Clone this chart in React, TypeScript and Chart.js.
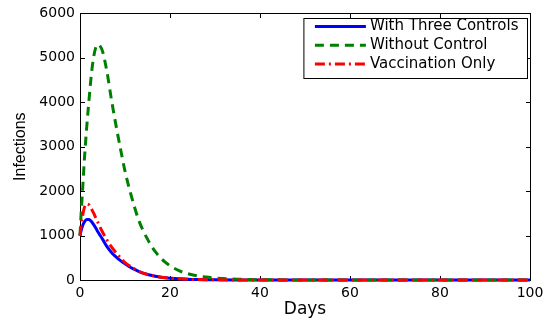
import { useEffect, useRef } from 'react';
import { Chart, registerables } from 'chart.js';

Chart.register(...registerables);

const days = [0, 0.25, 0.5, 1, 1.5, 2, 2.5, 3, 3.5, 4, 4.5, 5, 6, 7, 8, 9, 10, 11, 12, 13, 14, 15, 16, 17, 18, 19, 20, 22, 24, 26, 28, 30, 35, 40, 50, 60, 70, 80, 90, 100];

const withThreeControls = [1000, 1110, 1200, 1310, 1360, 1360, 1320, 1250, 1170, 1080, 1000, 920, 750, 620, 520, 435, 368, 300, 245, 195, 155, 125, 100, 80, 64, 51, 41, 26, 16, 10, 6, 4, 1, 0, 0, 0, 0, 0, 0, 0];
const withoutControl = [1000, 1500, 1900, 2750, 3450, 4050, 4600, 5000, 5230, 5300, 5260, 5150, 4680, 4050, 3480, 2950, 2450, 2040, 1680, 1360, 1120, 920, 745, 605, 490, 395, 320, 210, 140, 95, 65, 45, 18, 7, 1, 0, 0, 0, 0, 0];
const vaccinationOnly = [1000, 1230, 1400, 1640, 1710, 1690, 1610, 1510, 1400, 1290, 1180, 1080, 900, 745, 615, 500, 390, 320, 255, 200, 155, 125, 100, 80, 64, 51, 41, 26, 16, 10, 6, 4, 1, 0, 0, 0, 0, 0, 0, 0];

const seriesLabels = ['With Three Controls', 'Without Control', 'Vaccination Only'];
const xTitle = 'Days';
const yTitle = 'Infections';

const toPoints = (vals: number[]) => vals.map((v, i) => ({ x: days[i], y: v }));

const framePlugin = {
  id: 'matlabFrame',
  beforeDatasetsDraw(chart: any) {
    const { ctx, chartArea: a, scales } = chart;
    const L = Math.round(a.left) + 0.5;
    const R = Math.round(a.right) + 0.5;
    const T = Math.round(a.top) + 0.5;
    const B = Math.round(a.bottom) + 0.5;
    ctx.save();
    ctx.strokeStyle = '#000';
    ctx.lineWidth = 1;
    ctx.strokeRect(L, T, R - L, B - T);
    const len = 4.5;
    ctx.beginPath();
    scales.x.ticks.forEach((t: any) => {
      const px = Math.round(scales.x.getPixelForValue(t.value)) + 0.5;
      ctx.moveTo(px, B);
      ctx.lineTo(px, B - len);
      ctx.moveTo(px, T);
      ctx.lineTo(px, T + len);
    });
    scales.y.ticks.forEach((t: any) => {
      const py = Math.round(scales.y.getPixelForValue(t.value)) + 0.5;
      ctx.moveTo(L, py);
      ctx.lineTo(L + len, py);
      ctx.moveTo(R, py);
      ctx.lineTo(R - len, py);
    });
    ctx.stroke();
    ctx.restore();
  },
};

const legendPlugin = {
  id: 'matlabLegend',
  afterDraw(chart: any) {
    const { ctx, chartArea: a } = chart;
    const ds = chart.data.datasets;
    ctx.save();
    ctx.font = '15px "DejaVu Sans"';
    const maxW = Math.max(...ds.map((d: any) => ctx.measureText(d.label).width));
    const sampleX0 = 11;
    const sampleLen = 51;
    const gap = 4;
    const padR = 9;
    const w = sampleX0 + sampleLen + gap + maxW + padR;
    const rowH = 18.8;
    const h = 60;
    const right = Math.round(a.right) - 2.5;
    const top = Math.round(a.top) + 5.5;
    const left = right - w;
    ctx.fillStyle = '#fff';
    ctx.fillRect(left, top, w, h);
    ctx.strokeStyle = '#000';
    ctx.lineWidth = 1;
    ctx.strokeRect(left, top, w, h);
    ds.forEach((d: any, i: number) => {
      const y = top + 8 + i * rowH;
      ctx.beginPath();
      ctx.setLineDash(d.borderDash || []);
      ctx.strokeStyle = d.borderColor;
      ctx.lineWidth = d.borderWidth;
      ctx.moveTo(left + sampleX0, y);
      ctx.lineTo(left + sampleX0 + sampleLen, y);
      ctx.stroke();
      ctx.setLineDash([]);
      ctx.fillStyle = '#000';
      ctx.textBaseline = 'middle';
      ctx.textAlign = 'left';
      ctx.fillText(d.label, left + sampleX0 + sampleLen + gap, y);
    });
    ctx.restore();
  },
};

export default function App() {
  const ref = useRef<HTMLCanvasElement>(null);
  useEffect(() => {
    document.body.style.margin = '0';
    const tickFont = { family: '"DejaVu Sans"', size: 14 };
    const chart = new Chart(ref.current as HTMLCanvasElement, {
      type: 'line',
      data: {
        datasets: [
          {
            label: seriesLabels[0],
            data: toPoints(withThreeControls),
            borderColor: '#0000ff',
            borderWidth: 3,
            borderDash: [],
            order: 3,
          },
          {
            label: seriesLabels[1],
            data: toPoints(withoutControl),
            borderColor: '#008000',
            borderWidth: 3,
            borderDash: [9, 6],
            order: 2,
          },
          {
            label: seriesLabels[2],
            data: toPoints(vaccinationOnly),
            borderColor: '#ff0000',
            borderWidth: 3,
            borderDash: [10, 4, 2, 4],
            order: 1,
          },
        ] as any,
      },
      options: {
        responsive: false,
        animation: false,
        devicePixelRatio: 1,
        layout: { padding: { top: 12, right: 13, left: 0, bottom: 0 } },
        elements: {
          point: { radius: 0, hoverRadius: 0 },
          line: { cubicInterpolationMode: 'monotone', fill: false },
        },
        datasets: { line: { clip: 6 } } as any,
        plugins: {
          legend: { display: false },
          tooltip: { enabled: false },
        },
        scales: {
          x: {
            type: 'linear',
            min: 0,
            max: 100,
            grid: { display: false, drawTicks: false },
            border: { display: false },
            ticks: {
              stepSize: 20,
              font: tickFont,
              color: '#000',
              padding: 5,
              maxRotation: 0,
              callback: (v: any) => String(v),
            },
            title: {
              display: true,
              text: xTitle,
              font: { family: '"DejaVu Sans"', size: 17 },
              color: '#000',
              padding: { top: 0, bottom: 2 },
            },
            afterFit: (s: any) => {
              s.height = 42;
              s.paddingRight = 0;
            },
          },
          y: {
            type: 'linear',
            min: 0,
            max: 6000,
            grid: { display: false, drawTicks: false },
            border: { display: false },
            ticks: {
              stepSize: 1000,
              font: tickFont,
              color: '#000',
              padding: 5,
              callback: (v: any) => String(v),
            },
            title: {
              display: true,
              text: yTitle,
              font: { family: '"Liberation Sans", Arial', size: 16 },
              color: '#000',
              padding: { top: 11, bottom: 0 },
            },
            afterFit: (s: any) => {
              s.width = 80;
            },
          },
        },
      },
      plugins: [framePlugin, legendPlugin],
    });
    return () => chart.destroy();
  }, []);
  return (
    <div style={{ width: 543, height: 322 }}>
      <canvas ref={ref} width={543} height={322} style={{ display: 'block' }} />
    </div>
  );
}
